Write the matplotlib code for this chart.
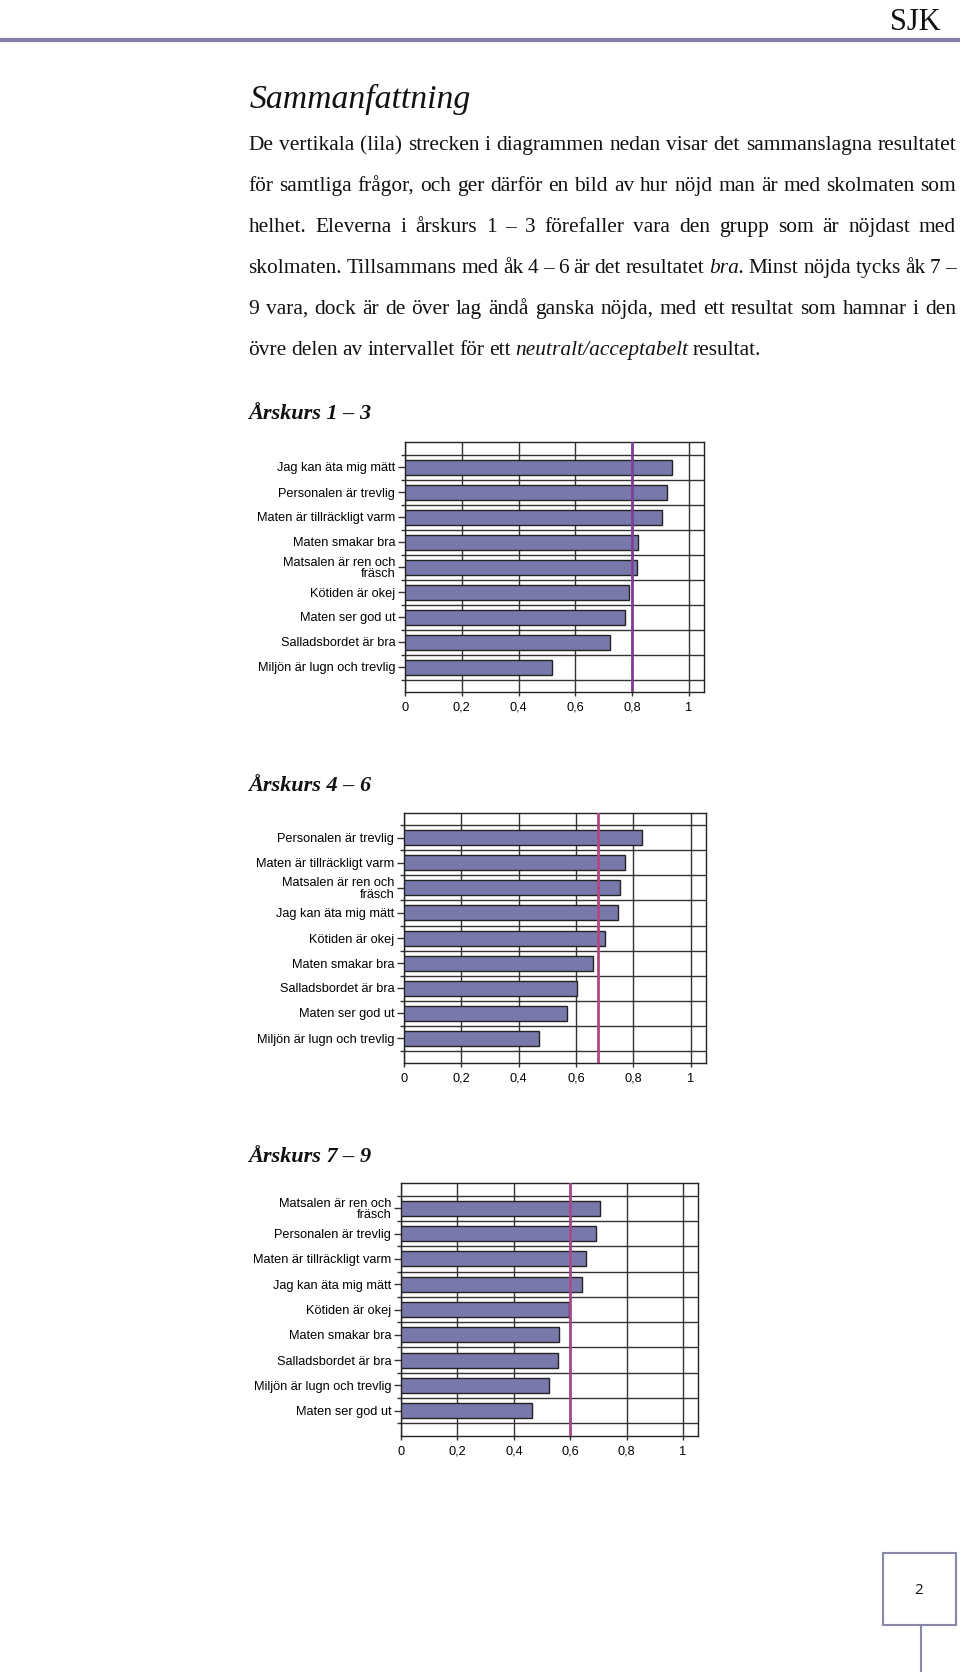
import numpy as np
import matplotlib
matplotlib.use('Agg')
import matplotlib.pyplot as plt
from matplotlib.lines import Line2D
from matplotlib.patches import Rectangle

# Page size in pixels
W, H = 960, 1672

# Chart data
labels_13 = ['Jag kan äta mig mätt', 'Personalen är trevlig', 'Maten är tillräckligt varm',
             'Maten smakar bra', 'Matsalen är ren och\nfräsch', 'Kötiden är okej',
             'Maten ser god ut', 'Salladsbordet är bra', 'Miljön är lugn och trevlig']
values_13 = [0.941, 0.923, 0.906, 0.822, 0.817, 0.789, 0.774, 0.723, 0.518]
mean_13 = 0.80

labels_46 = ['Personalen är trevlig', 'Maten är tillräckligt varm', 'Matsalen är ren och\nfräsch',
             'Jag kan äta mig mätt', 'Kötiden är okej', 'Maten smakar bra',
             'Salladsbordet är bra', 'Maten ser god ut', 'Miljön är lugn och trevlig']
values_46 = [0.829, 0.769, 0.753, 0.745, 0.700, 0.659, 0.604, 0.570, 0.471]
mean_46 = 0.676

labels_79 = ['Matsalen är ren och\nfräsch', 'Personalen är trevlig', 'Maten är tillräckligt varm',
             'Jag kan äta mig mätt', 'Kötiden är okej', 'Maten smakar bra',
             'Salladsbordet är bra', 'Miljön är lugn och trevlig', 'Maten ser god ut']
values_79 = [0.707, 0.691, 0.655, 0.641, 0.595, 0.559, 0.557, 0.524, 0.463]
mean_79 = 0.60

x_ticks = [0, 0.2, 0.4, 0.6, 0.8, 1.0]
x_ticklabels = ['0', '0,2', '0,4', '0,6', '0,8', '1']

headings = ['Årskurs 1 – 3', 'Årskurs 4 – 6', 'Årskurs 7 – 9']

# paragraph lines, *word* = italic
paragraph = [
    'De vertikala (lila) strecken i diagrammen nedan visar det sammanslagna resultatet',
    'för samtliga frågor, och ger därför en bild av hur nöjd man är med skolmaten som',
    'helhet. Eleverna i årskurs 1 – 3 förefaller vara den grupp som är nöjdast med',
    'skolmaten. Tillsammans med åk 4 – 6 är det resultatet *bra.* Minst nöjda tycks åk 7 –',
    '9 vara, dock är de över lag ändå ganska nöjda, med ett resultat som hamnar i den',
    'övre delen av intervallet för ett *neutralt/acceptabelt* resultat.',
]

serif = ['Liberation Serif', 'DejaVu Serif']
sans = ['Liberation Sans', 'DejaVu Sans']
bar_color = '#7878aa'
line_colors = ['#7f3f98', '#b04880', '#a8488c']
header_color = '#8080aa'


def fy(y):
    return 1 - y / H


fig = plt.figure(figsize=(W / 100, H / 100), dpi=100)
renderer = fig.canvas.get_renderer()

# header
fig.text(941 / W, fy(30), 'SJK', fontsize=22, family=serif, fontstretch='condensed',
         ha='right', va='baseline', color='#111111')
fig.add_artist(Line2D([0, 958 / W], [fy(40), fy(40)], color=header_color, lw=3.0))

fig.text(250 / W, fy(108), 'Sammanfattning', fontsize=24.3, family=serif, style='italic',
         va='baseline', color='#111111')

# justified paragraph; font size chosen so the first line fits with normal spacing
left, right = 248.5, 956
probe = fig.text(0, 0, paragraph[0], fontsize=10, family=serif)
body_fs = 10 * (right - left) / probe.get_window_extent(renderer).width * 0.995
probe.remove()

space_t = fig.text(0, 0, 'a a', fontsize=body_fs, family=serif)
nospace_t = fig.text(0, 0, 'aa', fontsize=body_fs, family=serif)
space_w = space_t.get_window_extent(renderer).width - nospace_t.get_window_extent(renderer).width
space_t.remove()
nospace_t.remove()

for i, line in enumerate(paragraph):
    y = 150 + 41 * i
    words = line.split(' ')
    texts = []
    for w in words:
        st = 'normal'
        if w.startswith('*') and w.endswith('*'):
            w = w.strip('*')
            st = 'italic'
        texts.append(fig.text(0, fy(y), w, fontsize=body_fs, family=serif, style=st,
                              va='baseline', color='#111111'))
    widths = [t.get_window_extent(renderer).width for t in texts]
    if i < len(paragraph) - 1:
        gap = (right - left - sum(widths)) / (len(texts) - 1)
    else:
        gap = space_w * 0.85
    x = left
    for t, w in zip(texts, widths):
        t.set_x(x / W)
        x += w + gap

# charts
boxes = [(405, 704, 442, 692), (404, 706, 813, 1063), (401, 698, 1183, 1436)]
heading_y = [419, 791, 1162]
datasets = [(labels_13, values_13, mean_13),
            (labels_46, values_46, mean_46),
            (labels_79, values_79, mean_79)]

for k, ((l, r, t, b), (labels, values, mean)) in enumerate(zip(boxes, datasets)):
    fig.text(248 / W, fy(heading_y[k]), headings[k], fontsize=16, family=serif,
             style='italic', weight='bold', va='baseline', color='#111111')

    ax = fig.add_axes([l / W, fy(b), (r - l) / W, (b - t) / H])
    ypos = np.arange(len(labels))
    ax.barh(ypos, values, height=0.6, color=bar_color, edgecolor='#222222',
            linewidth=1.0, zorder=3)
    ax.axvline(mean, color=line_colors[k], lw=2.0, zorder=4)

    ax.set_xlim(0, 1.053)
    ax.set_ylim(len(labels) - 0.0, -1.0)
    ax.set_yticks(ypos)
    ax.set_yticklabels(labels, fontsize=9.2, family=sans)
    for lab in ax.get_yticklabels():
        lab.set_linespacing(0.95)
    ax.set_yticks(np.arange(-0.5, len(labels), 1), minor=True)
    ax.set_xticks(x_ticks)
    ax.set_xticklabels(x_ticklabels, fontsize=9.2, family=sans)

    ax.grid(axis='x', which='major', color='#333333', lw=1.0, zorder=1)
    ax.grid(axis='y', which='minor', color='#333333', lw=1.0, zorder=1)
    ax.grid(axis='y', which='major', visible=False)
    ax.tick_params(axis='y', which='major', length=5, width=1, pad=2, color='#333333')
    ax.tick_params(axis='y', which='minor', length=3, width=1, color='#333333')
    ax.tick_params(axis='x', which='major', length=3, width=1, pad=4, color='#333333')
    for s in ax.spines.values():
        s.set_color('#222222')
        s.set_linewidth(1.0)
    ax.set_axisbelow(True)

# page number box
fig.add_artist(Rectangle((883 / W, fy(1625)), 73 / W, 72 / H, fill=False,
                         edgecolor='#8888aa', lw=1.5, transform=fig.transFigure))
fig.add_artist(Line2D([921 / W, 921 / W], [fy(1625), 0], color='#8888aa', lw=1.5))
fig.text(919 / W, fy(1590), '2', fontsize=11, family=['Open Sans', 'DejaVu Sans'],
         ha='center', va='center', color='#111111')

fig.savefig('out.png', dpi=100, facecolor='white')
